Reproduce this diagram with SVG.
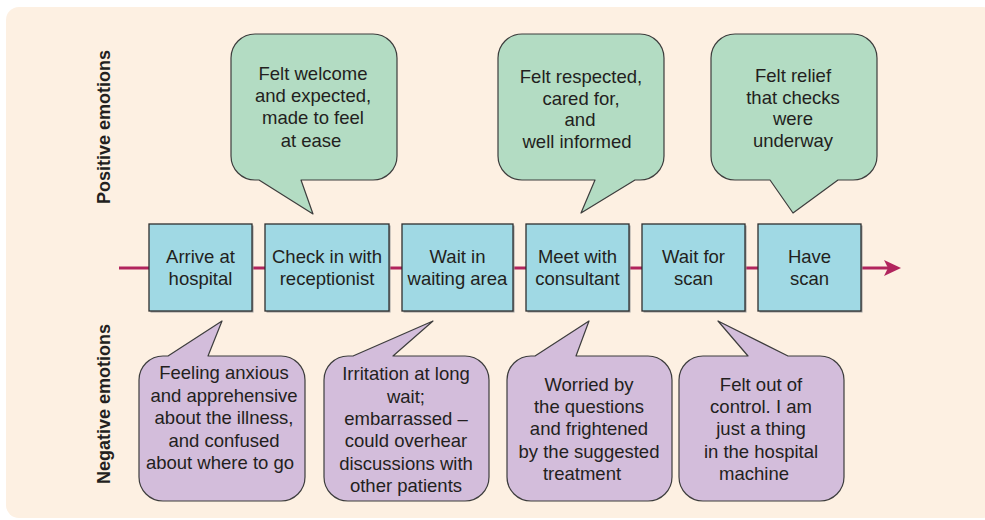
<svg xmlns="http://www.w3.org/2000/svg" width="985" height="520" viewBox="0 0 985 520">
<style>
.t{font-family:"Liberation Sans",Arial,sans-serif;font-size:18.5px;fill:#231f20;text-anchor:middle}
.lab{font-family:"Liberation Sans",Arial,sans-serif;font-size:18px;font-weight:bold;fill:#231f20;text-anchor:middle}
.pos{fill:#b3dcc3;stroke:#3d3d3d;stroke-width:1.2;stroke-linejoin:round}
.neg{fill:#d3bddb;stroke:#3d3d3d;stroke-width:1.2;stroke-linejoin:round}
.box{fill:#a0d9e4;stroke:#2e2e2e;stroke-width:1.3}
.shd{fill:#9c9c9c}
</style>
<rect x="6" y="7" width="990" height="511" rx="13" fill="#fdf0e2"/>
<text class="lab" transform="translate(109.5,127) rotate(-90)">Positive emotions</text>
<text class="lab" transform="translate(109.5,404) rotate(-90)">Negative emotions</text>
<g id="connectors">
<line x1="119" y1="268" x2="888" y2="268" stroke="#b1245d" stroke-width="3"/>
<path d="M901,268 L884,260 L888,268 L884,276 Z" fill="#b1245d"/>
</g>
<g id="step1"><rect class="shd" x="150.5" y="225.5" width="103" height="87"/><rect class="box" x="149" y="224" width="103" height="87"/><text class="t" x="200.5" y="263">Arrive at</text><text class="t" x="200.5" y="285">hospital</text></g>
<g id="step2"><rect class="shd" x="266.5" y="225.5" width="124" height="87"/><rect class="box" x="265" y="224" width="124" height="87"/><text class="t" x="327" y="263">Check in with</text><text class="t" x="327" y="285">receptionist</text></g>
<g id="step3"><rect class="shd" x="403.5" y="225.5" width="111" height="87"/><rect class="box" x="402" y="224" width="111" height="87"/><text class="t" x="457.5" y="263">Wait in</text><text class="t" x="457.5" y="285">waiting area</text></g>
<g id="step4"><rect class="shd" x="527.5" y="225.5" width="103" height="87"/><rect class="box" x="526" y="224" width="103" height="87"/><text class="t" x="577.5" y="263">Meet with</text><text class="t" x="577.5" y="285">consultant</text></g>
<g id="step5"><rect class="shd" x="643.5" y="225.5" width="103" height="87"/><rect class="box" x="642" y="224" width="103" height="87"/><text class="t" x="693.5" y="263">Wait for</text><text class="t" x="693.5" y="285">scan</text></g>
<g id="step6"><rect class="shd" x="759.5" y="225.5" width="103" height="87"/><rect class="box" x="758" y="224" width="103" height="87"/><text class="t" x="809.5" y="263">Have</text><text class="t" x="809.5" y="285">scan</text></g>
<g id="pos1"><path class="pos" d="M255,34 H373 A24,24 0 0 1 397,58 V156 A24,24 0 0 1 373,180 H301 L313,214 L259,180 H255 A24,24 0 0 1 231,156 V58 A24,24 0 0 1 255,34 Z"/>
<text class="t" x="313" y="80">Felt welcome</text><text class="t" x="313" y="102">and expected,</text><text class="t" x="313" y="124">made to feel</text><text class="t" x="311" y="146.5">at ease</text></g>
<g id="pos2"><path class="pos" d="M522,34 H640 A24,24 0 0 1 664,58 V156 A24,24 0 0 1 640,180 H635 L581,213 L595,180 H522 A24,24 0 0 1 498,156 V58 A24,24 0 0 1 522,34 Z"/>
<text class="t" x="581" y="83">Felt respected,</text><text class="t" x="581" y="105">cared for,</text><text class="t" x="580" y="126">and</text><text class="t" x="577" y="147.5">well informed</text></g>
<g id="pos3"><path class="pos" d="M735,34 H853 A24,24 0 0 1 877,58 V156 A24,24 0 0 1 853,180 H838 L793,213 L770,180 H735 A24,24 0 0 1 711,156 V58 A24,24 0 0 1 735,34 Z"/>
<text class="t" x="793" y="82">Felt relief</text><text class="t" x="793" y="103.5">that checks</text><text class="t" x="793" y="125">were</text><text class="t" x="793" y="147">underway</text></g>
<g id="neg1"><path class="neg" d="M163,356 H168 L222,321 L208,356 H281 A24,24 0 0 1 305,380 V477 A24,24 0 0 1 281,501 H163 A24,24 0 0 1 139,477 V380 A24,24 0 0 1 163,356 Z"/>
<text class="t" x="224" y="379">Feeling anxious</text><text class="t" x="224" y="401.5">and apprehensive</text><text class="t" x="224" y="424">about the illness,</text><text class="t" x="224" y="446.5">and confused</text><text class="t" x="220" y="469">about where to go</text></g>
<g id="neg2"><path class="neg" d="M348,356 H353 L433,321 L393,356 H465 A24,24 0 0 1 489,380 V477 A24,24 0 0 1 465,501 H348 A24,24 0 0 1 324,477 V380 A24,24 0 0 1 348,356 Z"/>
<text class="t" x="406" y="380">Irritation at long</text><text class="t" x="406" y="402.5">wait;</text><text class="t" x="406" y="425">embarrassed –</text><text class="t" x="406" y="447">could overhear</text><text class="t" x="406" y="470">discussions with</text><text class="t" x="406" y="492">other patients</text></g>
<g id="neg3"><path class="neg" d="M531,356 H535 L589,321 L576,356 H648 A24,24 0 0 1 672,380 V477 A24,24 0 0 1 648,501 H531 A24,24 0 0 1 507,477 V380 A24,24 0 0 1 531,356 Z"/>
<text class="t" x="589" y="391">Worried by</text><text class="t" x="589" y="413">the questions</text><text class="t" x="589" y="435">and frightened</text><text class="t" x="589" y="457.5">by the suggested</text><text class="t" x="582" y="480">treatment</text></g>
<g id="neg4"><path class="neg" d="M703,356 H748 L718,321 L788,356 H820 A24,24 0 0 1 844,380 V477 A24,24 0 0 1 820,501 H703 A24,24 0 0 1 679,477 V380 A24,24 0 0 1 703,356 Z"/>
<text class="t" x="761" y="391">Felt out of</text><text class="t" x="761" y="413">control. I am</text><text class="t" x="761" y="435">just a thing</text><text class="t" x="761" y="457.5">in the hospital</text><text class="t" x="754" y="480">machine</text></g>
</svg>
